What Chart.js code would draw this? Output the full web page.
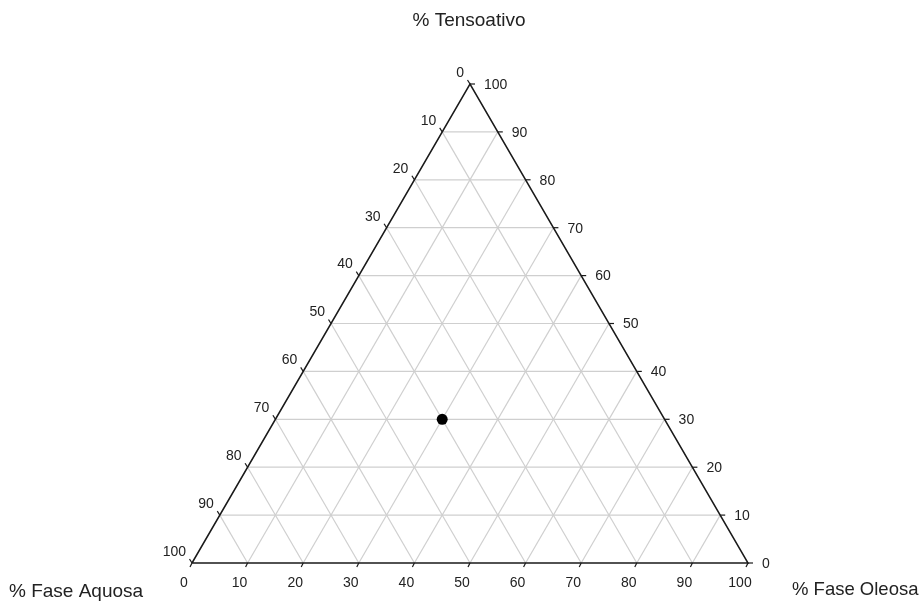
<!DOCTYPE html>
<html>
<head>
<meta charset="utf-8">
<script src="https://cdn.jsdelivr.net/npm/chart.js@4/dist/chart.umd.min.js"></script>
<style>
  html, body { margin: 0; padding: 0; background: #fff; }
  canvas { display: block; }
</style>
</head>
<body>
<canvas id="chart" width="920" height="601"></canvas>
<script>
// ternary axes: % Fase Aquosa (left), % Tensoativo (right), % Fase Oleosa (bottom)
const tickValues = [0, 10, 20, 30, 40, 50, 60, 70, 80, 90, 100];
const axisTitles = ['% Tensoativo', '% Fase Aquosa', '% Fase Oleosa'];

// the single sample
const tensoativo = [30];
const faseOleosa = [30];
const faseAquosa = [40];

// cartesian helpers: x = oleosa + tensoativo/2, y = tensoativo
const toXY = (o, t) => ({ x: o + t / 2, y: t });

const gridSets = [];
tickValues.slice(1, -1).forEach(v => {
  gridSets.push([toXY(0, v), toXY(100 - v, v)]);         // constant tensoativo
  gridSets.push([toXY(v, 0), toXY(v, 100 - v)]);         // constant oleosa
  gridSets.push([toXY(100 - v, 0), toXY(0, 100 - v)]);   // constant aquosa
});

const datasets = gridSets.map(pts => ({
  type: 'line',
  data: pts,
  borderColor: '#cfcfcf',
  borderWidth: 1.2,
  pointRadius: 0,
  clip: false,
  order: 3,
}));

datasets.push({
  type: 'line',
  data: [toXY(0, 0), toXY(100, 0), toXY(0, 100), toXY(0, 0)],
  borderColor: '#1a1a1a',
  borderWidth: 1.5,
  pointRadius: 0,
  clip: false,
  order: 2,
});

datasets.push({
  type: 'scatter',
  data: tensoativo.map((t, i) => toXY(faseOleosa[i], t)),
  backgroundColor: '#000',
  borderColor: '#000',
  borderWidth: 0,
  pointRadius: 5.5,
  clip: false,
  order: 0,
});

const ternaryLabels = {
  id: 'ternaryLabels',
  afterDatasetsDraw(chart) {
    const { ctx, scales: { x, y } } = chart;
    const px = p => ({ x: x.getPixelForValue(p.x), y: y.getPixelForValue(p.y) });
    ctx.save();
    ctx.strokeStyle = '#1a1a1a';
    ctx.lineWidth = 1.2;
    ctx.fillStyle = '#222';
    ctx.font = '14px "Liberation Sans", Arial, sans-serif';
    ctx.textBaseline = 'middle';
    const tick = (p, dx, dy) => {
      ctx.beginPath();
      ctx.moveTo(p.x, p.y);
      ctx.lineTo(p.x + dx, p.y + dy);
      ctx.stroke();
    };
    tickValues.forEach(v => {
      // left: fase aquosa, 0 at top
      let p = px(toXY(0, 100 - v));
      tick(p, -2.5, -4);
      ctx.textAlign = 'right';
      ctx.fillText(String(v), p.x - 6, p.y - 11);
      // right: tensoativo, 0 at bottom-right
      p = px(toXY(100 - v, v));
      tick(p, 5, 0);
      ctx.textAlign = 'left';
      ctx.fillText(String(v), p.x + 14, p.y + 1);
      // bottom: fase oleosa
      p = px(toXY(v, 0));
      tick(p, -2, 4);
      ctx.textAlign = 'center';
      ctx.fillText(String(v), p.x - 8, p.y + 20);
    });
    ctx.font = '19px "Liberation Sans", Arial, sans-serif';
    ctx.textAlign = 'center';
    ctx.fillText(axisTitles[0], 469, 21);
    ctx.textAlign = 'left';
    ctx.fillText(axisTitles[1], 9, 592);
    ctx.font = '18.5px "Liberation Sans", Arial, sans-serif';
    ctx.fillText(axisTitles[2], 792, 590);
    ctx.restore();
  }
};

new Chart(document.getElementById('chart'), {
  type: 'scatter',
  data: { datasets },
  options: {
    responsive: false,
    animation: false,
    layout: { padding: { left: 192, right: 172, top: 84, bottom: 38 } },
    scales: {
      x: { type: 'linear', min: 0, max: 100, display: false },
      y: { type: 'linear', min: 0, max: 100, display: false },
    },
    plugins: { legend: { display: false }, tooltip: { enabled: false } },
  },
  plugins: [ternaryLabels],
});
</script>
</body>
</html>
